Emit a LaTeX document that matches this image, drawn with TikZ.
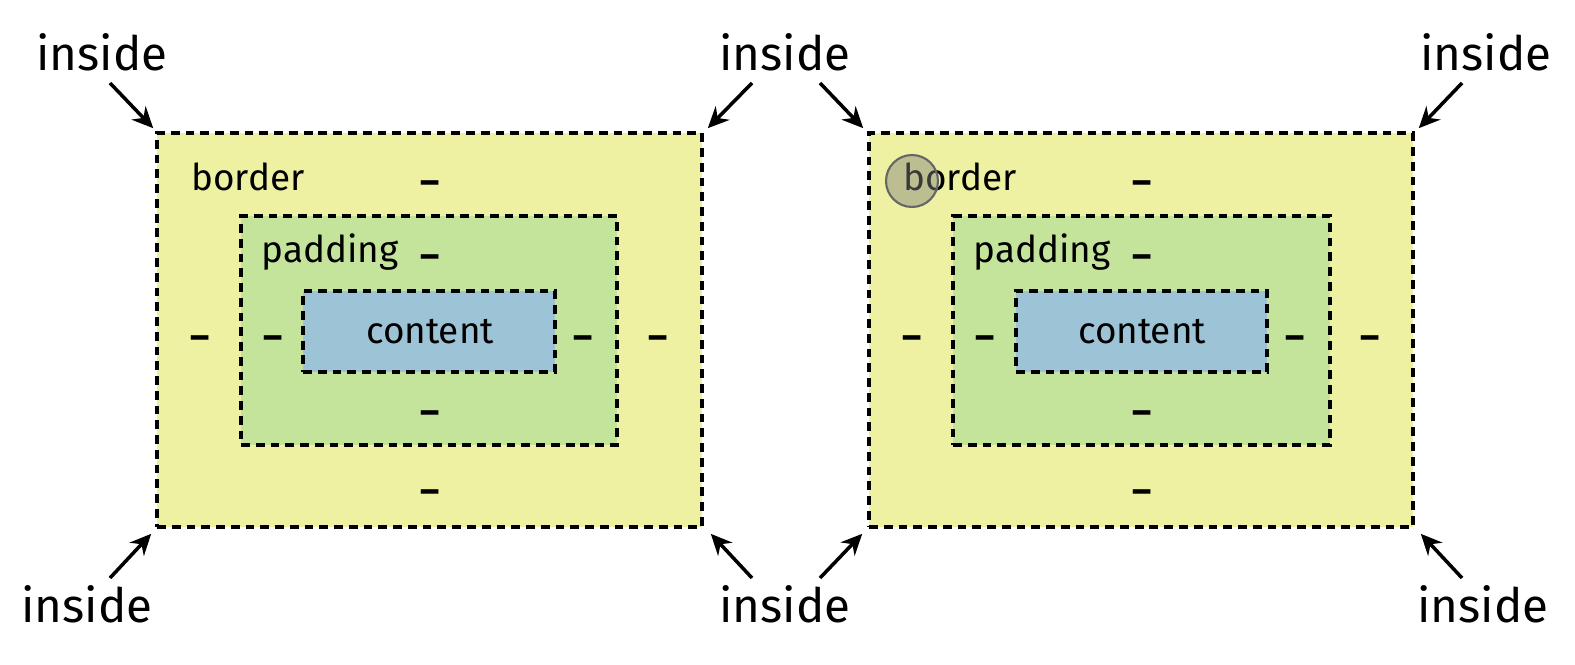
\documentclass[tikz,border=0pt]{standalone}
\usepackage{fontspec}
\setmainfont{Fira Sans}
\usetikzlibrary{arrows.meta}
\definecolor{byellow}{HTML}{EEF1A1}
\definecolor{pgreen}{HTML}{C4E49C}
\definecolor{cblue}{HTML}{9DC3D7}
\tikzset{
  box/.style={draw=black, line width=2.1pt, dash pattern=on 5pt off 3.4pt, rectangle, inner sep=0pt},
  lbl/.style={font=\fontsize{27}{30}\selectfont, inner sep=0pt},
  txt/.style={font=\fontsize{21}{25}\selectfont, inner sep=0pt},
  dsh/.style={font=\fontsize{21}{25}\selectfont\bfseries, inner sep=0pt, yshift=-0.15cm},
  arr/.style={-{Stealth[length=12pt,width=11pt]}, line width=2pt},
}
\begin{document}
\begin{tikzpicture}[x=0.02cm,y=-0.02cm]
\useasboundingbox (0,0) rectangle (1575,665);
% left diagram
\node[box, fill=byellow, minimum width=10.9cm, minimum height=7.88cm] (LO) at (429.5,330) {};
\node[box, fill=pgreen, minimum width=7.52cm, minimum height=4.58cm] (LP) at (429,330.5) {};
\node[box, fill=cblue, minimum width=5.04cm, minimum height=1.62cm] (LC) at (429,331.5) {};
\node[txt] (Lb) at (248,177) {border};
\node[dsh] (Lbd) at (430,180) {–};
\node[txt, anchor=base] (Lp) at (330,263) {padding};
\node[dsh] (Lpd) at (430,254) {–};
\node[txt] (Lc) at (430,332) {content};
\node[dsh] (Ld1) at (200,335) {–};
\node[dsh] (Ld2) at (273,335) {–};
\node[dsh] (Ld3) at (583,335) {–};
\node[dsh] (Ld4) at (658,335) {–};
\node[dsh] (Ld5) at (430,410) {–};
\node[dsh] (Ld6) at (430,489) {–};
% right diagram
\node[box, fill=byellow, minimum width=10.88cm, minimum height=7.88cm] (RO) at (1141,330) {};
\node[box, fill=pgreen, minimum width=7.54cm, minimum height=4.58cm] (RP) at (1141.5,330.5) {};
\node[box, fill=cblue, minimum width=5.02cm, minimum height=1.62cm] (RC) at (1141.5,331.5) {};
\node[txt] (Rb) at (960,177) {border};
\node[dsh] (Rbd) at (1142,180) {–};
\node[txt, anchor=base] (Rp) at (1042,263) {padding};
\node[dsh] (Rpd) at (1142,254) {–};
\node[txt] (Rc) at (1142,332) {content};
\node[dsh] (Rd1) at (912,335) {–};
\node[dsh] (Rd2) at (985,335) {–};
\node[dsh] (Rd3) at (1295,335) {–};
\node[dsh] (Rd4) at (1370,335) {–};
\node[dsh] (Rd5) at (1142,410) {–};
\node[dsh] (Rd6) at (1142,489) {–};
\node[circle, draw=black!60, line width=1.2pt, fill=black!50, fill opacity=0.45, minimum size=1.04cm, inner sep=0pt] (cur) at (912,181) {};
% inside labels
\node[lbl] (i1) at (102,52) {inside};
\node[lbl] (i2) at (785,52) {inside};
\node[lbl] (i3) at (1486,52) {inside};
\node[lbl] (i4) at (87,604) {inside};
\node[lbl] (i5) at (785,604) {inside};
\node[lbl] (i6) at (1483,604) {inside};
\coordinate (a1) at (110,83);
\coordinate (a2l) at (752,83);
\coordinate (a2r) at (820,83);
\coordinate (a3) at (1462,83);
\coordinate (a4) at (110,578);
\coordinate (a5l) at (752,578);
\coordinate (a5r) at (820,578);
\coordinate (a6) at (1462,578);
\draw[arr] (a1) -- ([shift={(-2,-3)}]LO.north west);
\draw[arr] (a2l) -- ([shift={(4,-3)}]LO.north east);
\draw[arr] (a2r) -- ([shift={(-4,-3)}]RO.north west);
\draw[arr] (a3) -- ([shift={(4,-3)}]RO.north east);
\draw[arr] (a4) -- ([shift={(-4,5)}]LO.south west);
\draw[arr] (a5l) -- ([shift={(7,5)}]LO.south east);
\draw[arr] (a5r) -- ([shift={(-5,5)}]RO.south west);
\draw[arr] (a6) -- ([shift={(6,5)}]RO.south east);
\end{tikzpicture}
\end{document}
